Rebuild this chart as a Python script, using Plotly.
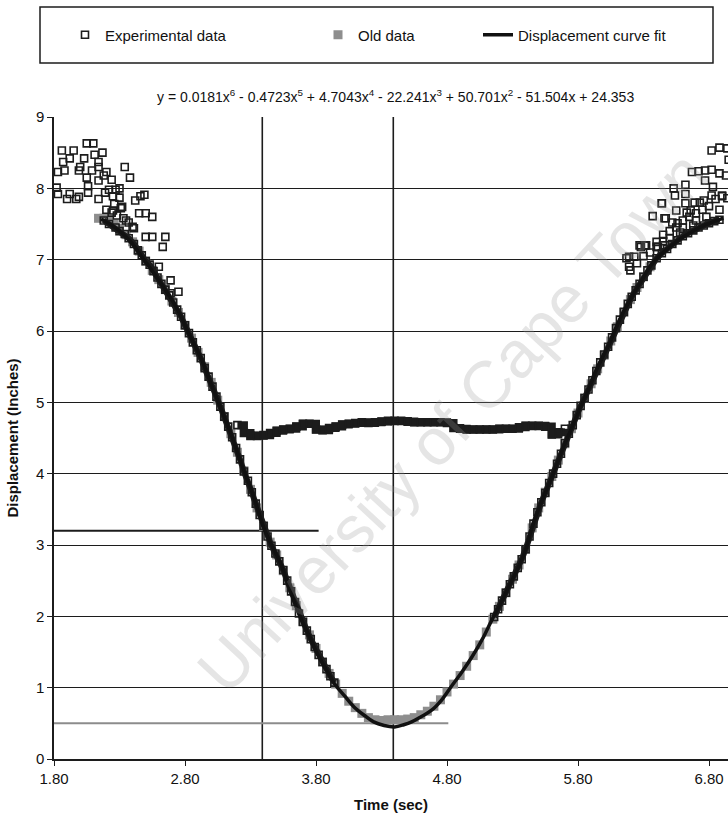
import plotly.graph_objects as go

# ---------------- data ----------------
# Displacement curve fit (black line)
fit_t = [2.16, 2.25, 2.32, 2.40, 2.47, 2.54, 2.60, 2.67, 2.73, 2.78, 2.83, 2.89, 2.94, 2.99,
         3.04, 3.09, 3.14, 3.19, 3.24, 3.30, 3.35, 3.40, 3.46, 3.53, 3.60, 3.68, 3.75, 3.81,
         3.88, 3.94, 4.02, 4.09, 4.17, 4.24, 4.32, 4.40, 4.47, 4.53, 4.60, 4.68, 4.76, 4.83,
         4.91, 4.99, 5.07, 5.14, 5.21, 5.27, 5.34, 5.40, 5.45, 5.52, 5.58, 5.64, 5.70, 5.77,
         5.83, 5.89, 5.94, 5.99, 6.04, 6.09, 6.14, 6.19, 6.24, 6.30, 6.35, 6.42, 6.50, 6.57,
         6.65, 6.75, 6.86, 6.91]
fit_y = [7.57, 7.47, 7.37, 7.22, 7.04, 6.87, 6.71, 6.52, 6.34, 6.16, 5.96, 5.74, 5.54, 5.30,
         5.07, 4.84, 4.61, 4.35, 4.09, 3.80, 3.53, 3.25, 3.00, 2.74, 2.38, 1.99, 1.72, 1.48,
         1.25, 1.06, 0.88, 0.73, 0.61, 0.52, 0.47, 0.45, 0.48, 0.52, 0.59, 0.68, 0.83, 1.01,
         1.21, 1.43, 1.68, 1.94, 2.18, 2.41, 2.67, 2.93, 3.25, 3.60, 3.86, 4.14, 4.42, 4.72,
         4.98, 5.22, 5.45, 5.64, 5.82, 6.04, 6.24, 6.41, 6.57, 6.75, 6.90, 7.05, 7.18, 7.28,
         7.37, 7.47, 7.55, 7.58]

# Experimental data: scattered cluster, top left
exp_tl_t = [1.86, 1.95, 2.05, 2.10, 2.17, 2.11, 1.87, 1.92, 2.03, 2.14, 1.83, 1.88, 1.99, 2.09,
            2.20, 2.00, 2.14, 2.34, 2.38, 2.05, 2.14, 1.82, 1.83, 1.92, 1.90, 1.97, 2.06, 2.06,
            2.14, 2.19, 2.22, 2.27, 2.30, 2.25, 2.30, 2.42, 2.46, 2.49, 2.32, 2.25, 2.45, 2.50,
            2.55, 2.55, 2.50, 2.65, 2.63, 2.40, 2.35, 1.99, 2.69, 2.75, 2.60, 2.69, 2.18, 2.24,
            2.20, 2.24, 2.28, 2.33, 2.37, 2.41, 2.26, 2.31]
exp_tl_y = [8.53, 8.53, 8.63, 8.63, 8.50, 8.47, 8.37, 8.42, 8.42, 8.37, 8.23, 8.25, 8.25, 8.25,
            8.23, 8.30, 8.30, 8.30, 8.15, 8.15, 8.11, 8.01, 7.92, 7.92, 7.85, 7.85, 7.94, 8.03,
            7.85, 7.94, 7.98, 7.98, 8.00, 7.89, 7.87, 7.83, 7.89, 7.91, 7.74, 7.69, 7.65, 7.65,
            7.60, 7.32, 7.32, 7.32, 7.18, 7.46, 7.55, 7.88, 6.71, 6.55, 6.90, 6.53, 8.18, 8.12,
            7.70, 7.66, 7.62, 7.58, 7.52, 7.44, 7.78, 7.72]

# Experimental data: scattered cluster, top right
exp_tr_t = [6.82, 6.88, 6.94, 6.95, 6.67, 6.72, 6.77, 6.82, 6.88, 6.93, 6.77, 6.83, 6.53, 6.62,
            6.54, 6.62, 6.44, 6.69, 6.76, 6.82, 6.90, 6.94, 6.37, 6.47, 6.55, 6.62, 6.66, 6.56,
            6.28, 6.32, 6.41, 6.45, 6.19, 6.23, 6.19, 6.17, 6.27, 6.31, 6.40, 6.46, 6.44,
            6.35, 6.40, 6.45, 6.50, 6.55, 6.60, 6.65, 6.70, 6.75, 6.80, 6.85, 6.90, 6.50, 6.60,
            6.70, 6.45, 6.30, 6.25, 6.20, 6.58, 6.68, 6.78, 6.88, 6.52, 6.63, 6.73]
exp_tr_y = [8.53, 8.57, 8.56, 8.40, 8.23, 8.24, 8.25, 8.26, 8.21, 8.18, 8.11, 8.02, 8.00, 8.05,
            7.90, 7.92, 7.79, 7.80, 7.83, 7.90, 7.89, 7.86, 7.61, 7.58, 7.69, 7.79, 7.69, 7.51,
            7.18, 7.20, 7.18, 7.26, 7.04, 7.04, 6.90, 7.02, 7.20, 7.20, 7.18, 7.58, 7.79,
            7.10, 7.25, 7.35, 7.40, 7.45, 7.55, 7.60, 7.65, 7.70, 7.75, 7.85, 7.90, 7.30, 7.45,
            7.55, 7.20, 7.05, 6.95, 6.85, 7.38, 7.48, 7.60, 7.70, 7.52, 7.66, 7.80]

# Experimental data along the falling branch
exp_l_t = [2.18, 2.22, 2.27, 2.30, 2.34, 2.37, 2.41, 2.44, 2.47, 2.50, 2.53, 2.56, 2.59, 2.62,
           2.65, 2.68, 2.71, 2.74, 2.77, 2.80, 2.83, 2.86, 2.89, 2.92, 2.95, 2.98, 3.01, 3.04,
           3.07, 3.10, 3.13, 3.16, 3.19, 3.22, 3.25, 3.28, 3.31, 3.34, 3.37, 3.40, 3.43, 3.46,
           3.49, 3.52, 3.55, 3.58, 3.61, 3.64, 3.67, 3.70, 3.73, 3.76, 3.79, 3.82, 3.85, 3.88,
           3.91, 3.94]
exp_l_y = [7.55, 7.50, 7.45, 7.40, 7.36, 7.30, 7.22, 7.13, 7.06, 6.98, 6.93, 6.84, 6.75, 6.66,
           6.58, 6.50, 6.40, 6.30, 6.20, 6.08, 5.97, 5.84, 5.73, 5.62, 5.48, 5.36, 5.22, 5.08,
           4.94, 4.80, 4.66, 4.51, 4.36, 4.20, 4.03, 3.90, 3.74, 3.58, 3.42, 3.27, 3.12, 2.99,
           2.88, 2.77, 2.65, 2.50, 2.35, 2.20, 2.04, 1.92, 1.80, 1.68, 1.57, 1.46, 1.36, 1.26,
           1.16, 1.07]

# Experimental data along the rising branch
exp_r_t = [5.16, 5.19, 5.22, 5.25, 5.28, 5.31, 5.34, 5.37, 5.40, 5.43, 5.46, 5.49, 5.52, 5.55,
           5.58, 5.61, 5.64, 5.67, 5.70, 5.73, 5.76, 5.79, 5.82, 5.85, 5.88, 5.91, 5.94, 5.97,
           6.00, 6.03, 6.06, 6.09, 6.12, 6.15, 6.18, 6.21, 6.24, 6.27, 6.30, 6.33, 6.36, 6.40,
           6.44, 6.48, 6.52, 6.56, 6.60, 6.64, 6.68, 6.72, 6.76, 6.80, 6.84, 6.88]
exp_r_y = [1.99, 2.10, 2.22, 2.33, 2.45, 2.56, 2.68, 2.80, 2.94, 3.12, 3.30, 3.46, 3.60, 3.73,
           3.87, 4.00, 4.14, 4.28, 4.43, 4.56, 4.68, 4.82, 4.95, 5.06, 5.18, 5.31, 5.44, 5.56,
           5.67, 5.78, 5.91, 6.04, 6.16, 6.27, 6.38, 6.48, 6.57, 6.66, 6.76, 6.85, 6.92, 7.02,
           7.09, 7.15, 7.22, 7.27, 7.33, 7.37, 7.41, 7.45, 7.48, 7.51, 7.54, 7.56]

# Experimental data: flat section
exp_f_t = [3.20, 3.25, 3.30, 3.35, 3.40, 3.45, 3.50, 3.55, 3.60, 3.65, 3.70, 3.75, 3.80, 3.85,
           3.90, 3.95, 4.00, 4.05, 4.10, 4.15, 4.20, 4.25, 4.30, 4.35, 4.40, 4.45, 4.50, 4.55,
           4.60, 4.65, 4.70, 4.75, 4.80, 4.85, 4.90, 4.95, 5.00, 5.05, 5.10, 5.15, 5.20, 5.25,
           5.30, 5.35, 5.40, 5.45, 5.50, 5.55, 5.60, 5.65, 5.70]
exp_f_y = [4.68, 4.57, 4.53, 4.53, 4.54, 4.57, 4.60, 4.62, 4.63, 4.66, 4.70, 4.70, 4.62, 4.61,
           4.64, 4.66, 4.69, 4.70, 4.71, 4.72, 4.71, 4.72, 4.73, 4.74, 4.74, 4.74, 4.73, 4.72,
           4.72, 4.72, 4.72, 4.72, 4.71, 4.64, 4.63, 4.62, 4.62, 4.62, 4.62, 4.62, 4.63, 4.63,
           4.63, 4.65, 4.67, 4.67, 4.67, 4.66, 4.55, 4.58, 4.63]

# Old data (grey)
old_t = [2.14, 2.18, 2.22, 2.26, 2.30, 2.35, 2.40, 2.45, 2.50, 2.55, 2.60, 2.65, 2.70, 2.75,
         2.80, 2.85, 2.90, 2.95, 3.00, 3.05, 3.10, 3.15, 3.20, 3.25, 3.30, 3.35, 3.40, 3.45,
         3.50, 3.55, 3.60, 3.65, 3.70, 3.75, 3.80, 3.85, 3.90, 3.95, 4.00, 4.05, 4.10, 4.15,
         4.20, 4.25, 4.30, 4.35, 4.40, 4.45, 4.50, 4.55, 4.60, 4.65, 4.70, 4.75, 4.80, 4.85,
         4.90, 4.95, 5.00, 5.05, 5.10, 5.15, 5.20, 5.25, 5.30, 5.35, 5.40, 5.45, 5.50, 5.55,
         5.60, 5.65, 5.70, 5.75, 5.80, 5.85, 5.90, 5.95, 6.00, 6.05, 6.10, 6.15, 6.20, 6.25,
         6.30, 6.35]
old_y = [7.58, 7.58, 7.55, 7.50, 7.44, 7.35, 7.25, 7.12, 6.98, 6.85, 6.72, 6.58, 6.42, 6.26,
         6.08, 5.90, 5.70, 5.50, 5.28, 5.03, 4.80, 4.56, 4.30, 4.04, 3.78, 3.52, 3.26, 3.04,
         2.86, 2.64, 2.40, 2.15, 1.93, 1.74, 1.55, 1.36, 1.20, 1.05, 0.92, 0.81, 0.72, 0.64,
         0.58, 0.55, 0.54, 0.55, 0.55, 0.55, 0.56, 0.58, 0.62, 0.67, 0.74, 0.83, 0.94, 1.05,
         1.17, 1.30, 1.45, 1.60, 1.78, 1.96, 2.14, 2.33, 2.52, 2.72, 2.94, 3.24, 3.52, 3.74,
         3.96, 4.19, 4.42, 4.63, 4.85, 5.06, 5.26, 5.47, 5.66, 5.86, 6.06, 6.26, 6.44, 6.61,
         6.76, 6.90]

# Reference lines
vline_a_t = [3.39, 3.39]
vline_b_t = [4.39, 4.39]
vline_y = [0, 9]
hline_a_t = [1.80, 3.82]
hline_a_y = [3.2, 3.2]
hline_b_t = [1.80, 4.81]
hline_b_y = [0.5, 0.5]

x_range = [1.8, 6.945]
y_range = [0, 9]
equation = ("y = 0.0181x<sup>6</sup> - 0.4723x<sup>5</sup> + 4.7043x<sup>4</sup> - 22.241x<sup>3</sup>"
            " + 50.701x<sup>2</sup> - 51.504x + 24.353")

# ---------------- figure ----------------
FONT = "Liberation Sans, Arial, sans-serif"
INK = "#1c1c1c"
fig = go.Figure()

for xs, ys, col, w in [(vline_a_t, vline_y, INK, 1.6), (vline_b_t, vline_y, INK, 1.6),
                       (hline_a_t, hline_a_y, INK, 1.8), (hline_b_t, hline_b_y, "#8c8c8c", 2)]:
    fig.add_trace(go.Scatter(x=xs, y=ys, mode="lines", line=dict(color=col, width=w),
                             showlegend=False, hoverinfo="skip"))

fig.add_trace(go.Scatter(x=old_t, y=old_y, mode="markers", name="Old data",
                         marker=dict(symbol="square", size=9, color="#8e8e8e", line=dict(width=0)),
                         legend="legend2"))

# dense parts of the experimental data merge into a solid dark band
for xs, ys, shp, w in [(exp_l_t, exp_l_y, "linear", 6), (exp_r_t, exp_r_y, "linear", 6),
                       (exp_f_t, exp_f_y, "hv", 8)]:
    fig.add_trace(go.Scatter(x=xs, y=ys, mode="lines", line=dict(color=INK, width=w, shape=shp),
                             showlegend=False, hoverinfo="skip", legendgroup="exp"))

exp_marker = dict(symbol="square-open", size=7, color=INK, line=dict(width=1.6, color=INK))
exp_sets = [(exp_tl_t, exp_tl_y), (exp_tr_t, exp_tr_y), (exp_l_t, exp_l_y),
            (exp_r_t, exp_r_y), (exp_f_t, exp_f_y)]
for i, (xs, ys) in enumerate(exp_sets):
    fig.add_trace(go.Scatter(x=xs, y=ys, mode="markers", name="Experimental data",
                             marker=exp_marker, showlegend=(i == 0), legendgroup="exp",
                             legend="legend"))

fig.add_trace(go.Scatter(x=fit_t, y=fit_y, mode="lines", name="Displacement curve fit",
                         line=dict(color="#111111", width=3.5, shape="spline"),
                         legend="legend3"))

leg_common = dict(orientation="h", xref="container", yref="container", yanchor="middle",
                  y=1 - 35 / 827, xanchor="left", bgcolor="rgba(0,0,0,0)", borderwidth=0,
                  font=dict(family=FONT, size=15, color="#111"))
fig.update_layout(
    legend=dict(leg_common, x=65 / 728),
    legend2=dict(leg_common, x=318 / 728),
    legend3=dict(leg_common, x=478 / 728),
)

fig.add_shape(type="rect", xref="paper", yref="paper",
              x0=(40 - 54) / 674, x1=(713 - 54) / 674, y0=(759 - 63) / 642, y1=(759 - 7) / 642,
              line=dict(color=INK, width=1.5), fillcolor="rgba(0,0,0,0)")

fig.add_annotation(text=equation, xref="paper", yref="paper",
                   x=(395 - 54) / 674, y=(759 - 85) / 642, showarrow=False,
                   font=dict(family=FONT, size=14, color="#111"))

fig.add_annotation(text="University of Cape Town", xref="paper", yref="paper",
                   x=(452 - 54) / 674, y=(759 - 422) / 642, showarrow=False, textangle=-47,
                   font=dict(family=FONT, size=66, color="rgba(150,150,150,0.25)"))

fig.update_layout(
    width=728, height=827,
    margin=dict(l=54, r=0, t=117, b=68),
    paper_bgcolor="white", plot_bgcolor="white",
    font=dict(family=FONT, size=15, color="#111"),
    xaxis=dict(range=x_range, tick0=1.8, dtick=1, tickformat=".2f", showgrid=False,
               zeroline=False, showline=True, linecolor=INK, linewidth=1.5,
               ticks="outside", ticklen=5, tickcolor=INK,
               tickfont=dict(family=FONT, size=15, color="#111"),
               title=dict(text="<b>Time (sec)</b>", font=dict(family=FONT, size=15), standoff=14)),
    yaxis=dict(range=y_range, dtick=1, showgrid=True, gridcolor=INK, gridwidth=1.2,
               zeroline=False, showline=True, linecolor=INK, linewidth=1.5,
               ticks="outside", ticklen=5, tickcolor=INK,
               tickfont=dict(family=FONT, size=15, color="#111"),
               title=dict(text="<b>Displacement (Inches)</b>", font=dict(family=FONT, size=15), standoff=14)),
)

fig.write_html("out.html")
